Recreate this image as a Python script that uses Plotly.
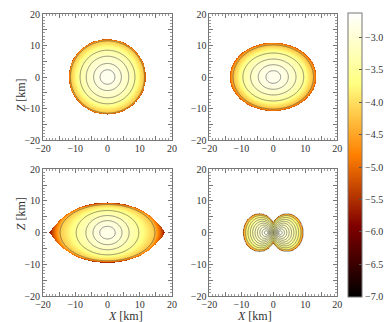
import numpy as np
import plotly.graph_objects as go

# ---------------- data ----------------
# colour bar (log10 density)
cbar_min, cbar_max = -7.0, -2.62
cbar_ticks = [-7.0, -6.5, -6.0, -5.5, -5.0, -4.5, -4.0, -3.5, -3.0]
axis_ticks = [-20, -10, 0, 10, 20]

# panel 1 (spherical): contour semi-axes (km), last entry = stellar surface
p1_a = [0.0, 2.3, 4.3, 6.6, 8.5, 11.5, 12.0]
p1_b = [0.0, 2.3, 4.3, 6.6, 8.5, 11.5, 12.0]
p1_logrho = [-2.75, -2.8, -2.95, -3.15, -3.4, -4.25, -5.2]

# panel 2 (oblate)
p2_a = [0.0, 2.3, 4.7, 7.1, 9.5, 12.6, 13.6]
p2_b = [0.0, 2.0, 3.9, 5.7, 7.6, 10.2, 10.9]
p2_logrho = [-2.75, -2.8, -2.95, -3.15, -3.45, -4.3, -5.2]

# panel 3 (mass-shedding, lens shaped surface)
p3_a = [0.0, 2.4, 4.5, 6.7, 9.7, 14.7, 18.4]
p3_b = [0.0, 2.0, 3.8, 5.4, 7.0, 8.9, 9.6]
p3_logrho = [-2.8, -2.85, -3.0, -3.2, -3.5, -4.2, -6.0]
p3_surface = [18.0, 9.5]          # equatorial / polar radius of the lens

# panel 4 (toroidal): lobe centre offset and semi-axes for each contour
p4_c = [2.0, 2.23, 2.46, 2.69, 2.92, 3.15, 3.38, 3.61, 3.84, 4.07, 4.3]
p4_a = [0.0, 0.51, 1.02, 1.53, 2.04, 2.55, 3.06, 3.57, 4.08, 4.59, 5.1]
p4_b = [0.0, 0.6, 1.2, 1.8, 2.4, 3.0, 3.6, 4.2, 4.8, 5.4, 6.0]
p4_logrho = [-2.7, -2.8, -2.9, -3.0, -3.1, -3.2, -3.3, -3.45, -3.65, -3.95, -4.8]

# ---------------- build the fields ----------------
grid = np.linspace(-20, 20, 401)
X, Z = np.meshgrid(grid, grid)


def level_field(xx, zz, a, b, c=None):
    """Return fractional contour index for each point of an ellipse family."""
    a = np.asarray(a, float)
    b = np.asarray(b, float)
    c = np.zeros_like(a) if c is None else np.asarray(c, float)
    idx = np.arange(len(a), dtype=float)
    top = idx[-1]

    def g(t):
        A = np.interp(t, idx, a)
        B = np.interp(t, idx, b)
        C = np.interp(t, idx, c)
        return ((xx - C) / A) ** 2 + (zz / B) ** 2

    lo = np.full(xx.shape, 1e-6)
    hi = np.full(xx.shape, top)
    inside = g(hi) <= 1.0
    for _ in range(45):
        mid = 0.5 * (lo + hi)
        gm = g(mid)
        big = gm > 1.0
        lo = np.where(big, mid, lo)
        hi = np.where(big, hi, mid)
    t = 0.5 * (lo + hi)
    t = np.where(inside, t, top + 5.0)
    return t


fields = []
# panel 1
t1 = level_field(np.abs(X), Z, p1_a, p1_b)
fields.append((t1, p1_logrho, len(p1_a) - 1, np.ones_like(t1, bool)))
# panel 2
t2 = level_field(np.abs(X), Z, p2_a, p2_b)
fields.append((t2, p2_logrho, len(p2_a) - 1, np.ones_like(t2, bool)))
# panel 3
t3 = level_field(np.abs(X), Z, p3_a, p3_b)
u = np.clip(np.abs(X) / p3_surface[0], 0, 1)
zlens = p3_surface[1] * (1 - u ** 2) * (1 + 0.4 * u ** 2)
lens_mask = (np.abs(Z) <= zlens) & (np.abs(X) <= p3_surface[0])
fields.append((t3, p3_logrho, len(p3_a) - 1, lens_mask))
# panel 4
t4r = level_field(X, Z, p4_a, p4_b, p4_c)
t4l = level_field(-X, Z, p4_a, p4_b, p4_c)
t4 = np.minimum(t4r, t4l)
fields.append((t4, p4_logrho, len(p4_a) - 1, np.ones_like(t4, bool)))

# ---------------- figure ----------------
W, H = 387, 322
afmhot = [[0.0, "rgb(0,0,0)"], [0.25, "rgb(128,0,0)"], [0.5, "rgb(255,128,0)"],
          [0.75, "rgb(255,255,128)"], [1.0, "rgb(255,255,255)"]]

xdom = [[43 / W, 172 / W], [209.3 / W, 337.3 / W]]
ydom = [[1 - 140 / H, 1 - 14 / H], [1 - 296 / H, 1 - 169.3 / H]]
pos = [(0, 0), (1, 0), (0, 1), (1, 1)]

fig = go.Figure()
font = "Liberation Serif"
for i, (t, logvals, top, mask) in enumerate(fields):
    n = i + 1
    xa = "x" if n == 1 else f"x{n}"
    ya = "y" if n == 1 else f"y{n}"
    idx = np.arange(len(logvals), dtype=float)
    rho = np.interp(t, idx, logvals)
    inside = (t <= top) & mask
    rho = np.where(inside, rho, np.nan)
    fig.add_trace(go.Heatmap(
        x=grid, y=grid, z=rho, colorscale=afmhot, zmin=cbar_min, zmax=cbar_max,
        xaxis=xa, yaxis=ya, hoverinfo="skip",
        showscale=(i == 0),
        colorbar=dict(
            x=348.3 / W, xanchor="left", y=1 - 296.7 / H, yanchor="bottom",
            len=284 / H, lenmode="fraction", thickness=14.4, thicknessmode="pixels",
            outlinecolor="#777", outlinewidth=1,
            tickvals=cbar_ticks, tickformat=".1f", ticks="inside", ticklen=3,
            tickcolor="#555", tickfont=dict(family=font, size=10, color="#333"),
            xpad=0, ypad=0,
        ),
    ))
    tc = np.where(mask | (t > top), t, top + 5.0)
    ncont = top - 1 if i < 3 else top
    fig.add_trace(go.Contour(
        x=grid, y=grid, z=tc, xaxis=xa, yaxis=ya, showscale=False,
        contours=dict(start=1, end=ncont, size=1, coloring="none"),
        line=dict(color="rgba(50,50,50,0.8)", width=0.65),
        autocontour=False, hoverinfo="skip",
    ))

layout = dict(width=W, height=H, margin=dict(l=0, r=0, t=0, b=0, autoexpand=False),
              paper_bgcolor="white", plot_bgcolor="white", showlegend=False)
for i, (cx, cy) in enumerate(pos):
    n = i + 1
    xk = "xaxis" if n == 1 else f"xaxis{n}"
    yk = "yaxis" if n == 1 else f"yaxis{n}"
    common = dict(range=[-20, 20], tickvals=list(range(-20, 21, 5)),
                  ticktext=[str(v).replace("-", "\u2212") if v % 10 == 0 else "" for v in range(-20, 21, 5)],
                  ticks="inside", ticklen=4, tickcolor="#777", tickwidth=0.8,
                  minor=dict(dtick=1, ticks="inside", ticklen=2, tickcolor="#999", tickwidth=0.6),
                  showgrid=False, zeroline=False, showline=True, linecolor="#777",
                  linewidth=0.8, mirror="allticks", automargin=False,
                  tickfont=dict(family=font, size=10, color="#333"))
    layout[xk] = dict(common, domain=xdom[cx], anchor="y" if n == 1 else f"y{n}",
                      ticklabelstandoff=-1)
    layout[yk] = dict(common, domain=ydom[cy], anchor="x" if n == 1 else f"x{n}")
fig.update_layout(**layout)

ann = []
for yc in [1 - 77 / H, 1 - 232.7 / H]:
    ann.append(dict(text="<i>Z</i> [km]", x=12 / W, y=yc, xref="paper", yref="paper",
                    textangle=-90, showarrow=False, font=dict(family=font, size=12, color="#333")))
for xc in [107.3 / W, 273.3 / W]:
    ann.append(dict(text="<i>X</i> [km]", x=xc, y=1 - 307.5 / H, xref="paper", yref="paper",
                    yanchor="top", borderpad=0,
                    showarrow=False, font=dict(family=font, size=12, color="#333")))
fig.update_layout(annotations=ann)

fig.write_html("out.html")
